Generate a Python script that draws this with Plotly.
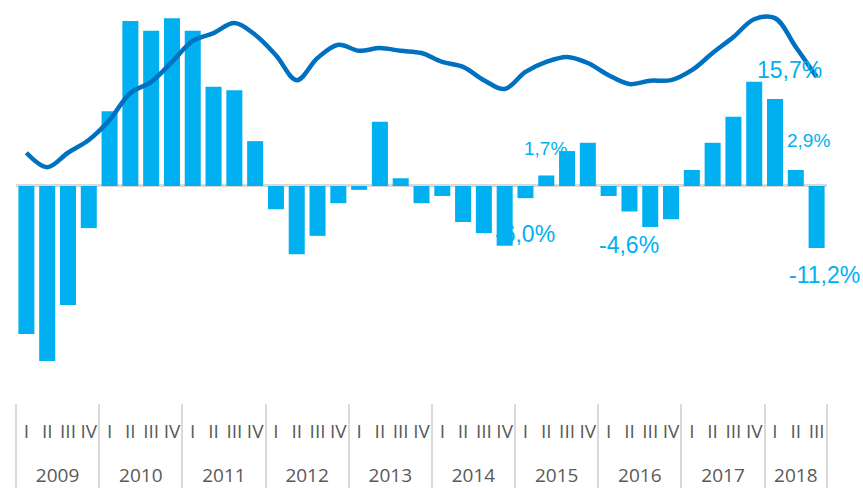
import plotly.graph_objects as go

years = ["2009", "2010", "2011", "2012", "2013", "2014", "2015", "2016", "2017", "2018"]
quarter_names = ["I", "II", "III", "IV"]
quarters_per_year = [4, 4, 4, 4, 4, 4, 4, 4, 4, 3]

bar_values = [-26.7, -31.6, -21.5, -7.6,
              13.5, 29.8, 28.0, 30.3,
              28.0, 17.9, 17.3, 8.1,
              -4.2, -12.3, -9.0, -3.1,
              -0.7, 11.6, 1.4, -3.1,
              -1.8, -6.5, -8.5, -10.8,
              -2.2, 1.9, 6.3, 7.8,
              -1.8, -4.6, -7.4, -6.0,
              2.9, 7.8, 12.5, 18.8,
              15.7, 2.9, -11.2]

line_values = [6.0, 3.4, 6.0, 8.3,
               11.9, 16.8, 18.8, 22.4,
               26.2, 27.6, 29.4, 27.3,
               23.6, 19.1, 23.1, 25.5,
               24.4, 24.9, 24.4, 24.0,
               22.4, 21.5, 19.1, 17.5,
               20.6, 22.4, 23.3, 22.2,
               20.0, 18.4, 19.0, 19.1,
               20.9, 24.0, 26.9, 30.1,
               30.3, 25.1, 19.7]

label_texts = ["15,7%", "2,9%", "1,7%", "-6,0%", "-4,6%", "-11,2%"]
label_x = [36.7, 37.6, 24.95, 24.0, 29.0, 38.4]
label_y = [20.9, 8.3, 6.7, -8.7, -10.6, -16.1]
label_sizes = [23, 19, 19, 23, 23, 23]

# quarter labels, year group centres and year boundaries derived from the lists
quarter_labels = []
year_centres = []
boundaries = [-0.5]
start = 0
for n in quarters_per_year:
    quarter_labels.extend(quarter_names[:n])
    year_centres.append(start + (n - 1) / 2)
    start += n
    boundaries.append(start - 0.5)
xs = list(range(len(bar_values)))

BAR_COLOR = "#00B0F0"
LINE_COLOR = "#0070C0"
AXIS_TEXT = "#595959"
DIVIDER = "#D9D9D9"
xrange = [-0.5, len(bar_values) - 0.5]

fig = go.Figure()
fig.add_trace(go.Bar(x=xs, y=bar_values,
                     marker=dict(color=BAR_COLOR, line=dict(width=0)),
                     hoverinfo="skip"))
fig.add_trace(go.Scatter(x=xs, y=line_values, mode="lines",
                         line=dict(color=LINE_COLOR, width=4.5, shape="spline", smoothing=1),
                         hoverinfo="skip"))

for t, lx, ly, s in zip(label_texts, label_x, label_y, label_sizes):
    fig.add_annotation(x=lx, y=ly, xref="x", yref="y", text=t, showarrow=False,
                       font=dict(family="Liberation Sans, Arial", size=s, color=BAR_COLOR))

tick_font = dict(family="Open Sans", size=19, color=AXIS_TEXT)

fig.update_layout(
    template="none",
    width=863, height=488,
    margin=dict(l=16, r=36, t=5, b=85),
    paper_bgcolor="white", plot_bgcolor="white",
    showlegend=False, bargap=0.23,
    xaxis=dict(range=xrange, tickmode="array", tickvals=xs, ticktext=quarter_labels,
               ticks="", ticklabelstandoff=15, tickangle=0, tickfont=tick_font,
               showgrid=False, showline=False, zeroline=False, automargin=False,
               minor=dict(tickmode="array", tickvals=boundaries, ticks="outside",
                          ticklen=85, tickwidth=2, tickcolor=DIVIDER, showgrid=False)),
    xaxis2=dict(range=xrange, overlaying="x", anchor="y", side="bottom",
                tickmode="array", tickvals=year_centres, ticktext=years,
                ticks="", ticklabelstandoff=59, tickangle=0, tickfont=tick_font,
                showgrid=False, showline=False, zeroline=False, automargin=False),
    yaxis=dict(range=[-39.17, 32.67], showticklabels=False, showgrid=False,
               automargin=False,
               zeroline=True, zerolinecolor=DIVIDER, zerolinewidth=3),
)
# an invisible trace keeps the year axis active
fig.add_trace(go.Scatter(x=year_centres, y=[0] * len(years), xaxis="x2", mode="none",
                         hoverinfo="skip", showlegend=False))

fig.write_html("out.html", config={"displayModeBar": False},
               post_script="document.body.style.margin='0';")
